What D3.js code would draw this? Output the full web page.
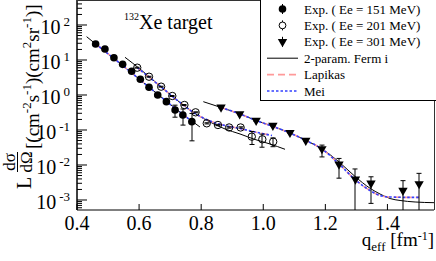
<!DOCTYPE html>
<html>
<head>
<meta charset="utf-8">
<script src="https://cdn.jsdelivr.net/npm/d3@7"></script>
<style>
body{margin:0;background:#fff}
svg{display:block;font-family:"Liberation Serif","Times New Roman",serif}
</style>
</head>
<body>
<svg width="436" height="261"></svg>
<script>
// measured points, Ee = 151 MeV (filled circles)
var q151 = [0.460,0.490,0.519,0.547,0.576,0.604,0.632,0.660,0.688,0.716,0.741,0.770];
var s151 = [28.7,20.6,11.6,7.5,4.75,2.81,1.66,1.0,0.645,0.372,0.268,0.173];
var e151 = [0.8,0.6,0.35,0.22,0.14,0.08,0.05,0.03,0.03,0.14,0.13,0.124];

// Ee = 201 MeV (open circles)
var q201 = [0.594,0.632,0.671,0.707,0.746,0.782,0.818,0.854,0.890,0.927,0.963,0.997,1.032];
var s201 = [6.03,3.33,1.73,0.936,0.518,0.32,0.155,0.139,0.118,0.118,0.0645,0.0542,0.0463];
var e201 = [0.18,0.1,0.05,0.03,0.016,0.01,0.006,0.006,0.005,0.005,0.026,0.022,0.013];

// Ee = 301 MeV (down triangles), asymmetric bars
var q301 = [0.864,0.924,0.977,1.031,1.086,1.137,1.189,1.244,1.297,1.347,1.450,1.502];
var s301 = [0.445,0.286,0.187,0.134,0.0837,0.050,0.0287,0.0105,0.0039,0.0030,0.00187,0.00287];
var eLo301 = [0.02,0.013,0.009,0.006,0.004,0.003,0.0117,0.0063,0.0036,0.0022,0.0017,0.0027];
var eHi301 = [0.02,0.013,0.009,0.006,0.004,0.003,0.0083,0.0049,0.0038,0.0016,0.0017,0.0029];

// model curves: 2-param. Fermi
var fermiQ151 = [0.431,0.474,0.539,0.603,0.667,0.732,0.796];
var fermi151  = [46.3,22.8,7.94,2.72,0.936,0.323,0.122];
var fermiQ201 = [0.5546,0.6030,0.6674,0.7318,0.7802,0.8285,0.8768,0.9251,0.9735,1.0218,1.0701];
var fermi201  = [11.94,5.53,1.81,0.611,0.296,0.169,0.107,0.0769,0.0536,0.0398,0.0281];
var fermiQ301 = [0.8069,0.8639,0.9251,0.9767,1.0314,1.0862,1.1378,1.1893,1.2441,1.2957,1.3440,1.3763,1.4085,1.4407,1.4890,1.5502];
var fermi301  = [0.644,0.440,0.286,0.187,0.126,0.0820,0.0501,0.0286,0.0122,0.00469,0.00216,0.00148,0.00110,0.000968,0.000877,0.000838];

// Lapikas
var lapQ151 = [0.460,0.539,0.603,0.667,0.732,0.770];
var lap151  = [28.8,7.94,2.72,0.936,0.323,0.178];
var lapQ201 = [0.5943,0.6674,0.7318,0.7802,0.8285,0.8768,0.9251,0.9735,1.0282];
var lap201  = [6.03,1.81,0.611,0.296,0.181,0.134,0.110,0.0877,0.0697];
var lapQ301 = [0.8639,0.9251,0.9767,1.0314,1.0862,1.1378,1.1893,1.2441,1.2957,1.3440,1.3763,1.4085,1.4567,1.5018];
var lap301  = [0.440,0.286,0.187,0.126,0.0820,0.0501,0.0286,0.0107,0.00385,0.00187,0.00134,0.00122,0.00119,0.00119];

// Mei
var meiQ151 = [0.460,0.539,0.603,0.667,0.732,0.770];
var mei151  = [28.8,7.94,2.72,0.936,0.323,0.178];
var meiQ201 = [0.5943,0.6674,0.7318,0.7802,0.8285,0.8768,0.9251,0.9735,1.0282];
var mei201  = [6.03,1.81,0.611,0.296,0.181,0.134,0.110,0.0877,0.0697];
var meiQ301 = [0.8639,0.9251,0.9767,1.0314,1.0862,1.1378,1.1893,1.2441,1.2957,1.3440,1.3763,1.4085,1.4567,1.5018];
var mei301  = [0.440,0.286,0.187,0.126,0.0820,0.0501,0.0286,0.0107,0.00385,0.00187,0.00134,0.00122,0.00119,0.00119];

var xTicks = [0.4,0.6,0.8,1.0,1.2,1.4];
var yExps = [-3,-2,-1,0,1,2];
var legendLabels = ["Exp. ( Ee = 151 MeV)","Exp. ( Ee = 201 MeV)","Exp. ( Ee = 301 MeV)","2-param. Ferm i","Lapikas","Mei"];

var svg = d3.select('svg');
var pLeft = 77, pRight = 434, pTop = 0, pBottom = 210;

var x = d3.scaleLinear().domain([0.4,1.55]).range([pLeft,pRight]);
var y = d3.scaleLog().domain([Math.pow(10,-3.286),Math.pow(10,2.714)]).range([pBottom,pTop]);

svg.append('clipPath').attr('id','plot')
  .append('rect').attr('x',pLeft).attr('y',pTop).attr('width',pRight-pLeft).attr('height',pBottom-pTop);

var plot = svg.append('g').attr('clip-path','url(#plot)');

// curves
var line = d3.line().x(function(d){return x(d[0]);}).y(function(d){return y(d[1]);}).curve(d3.curveMonotoneX);
function pairs(qs,vs){ return qs.map(function(q,i){ return [q,vs[i]]; }); }

[[fermiQ151,fermi151],[fermiQ201,fermi201],[fermiQ301,fermi301]].forEach(function(c){
  plot.append('path').attr('d',line(pairs(c[0],c[1])))
    .attr('fill','none').attr('stroke','#000').attr('stroke-width',1);
});
[[lapQ151,lap151],[lapQ201,lap201],[lapQ301,lap301]].forEach(function(c){
  plot.append('path').attr('d',line(pairs(c[0],c[1])))
    .attr('fill','none').attr('stroke','#ff9a9a').attr('stroke-width',1.6).attr('stroke-dasharray','7,4');
});
[[meiQ151,mei151],[meiQ201,mei201],[meiQ301,mei301]].forEach(function(c){
  plot.append('path').attr('d',line(pairs(c[0],c[1])))
    .attr('fill','none').attr('stroke','#3340ff').attr('stroke-width',1.6).attr('stroke-dasharray','2.5,2');
});

// error bars
function errBars(qs,vs,lo,hi){
  qs.forEach(function(q,i){
    var px = Math.round(x(q));
    var y1 = y(Math.max(vs[i]-lo[i],1e-6)), y2 = y(vs[i]+hi[i]);
    plot.append('line').attr('x1',px).attr('x2',px).attr('y1',y1).attr('y2',y2)
      .attr('stroke','#000').attr('stroke-width',1);
    [y1,y2].forEach(function(yy){
      plot.append('line').attr('x1',px-2.5).attr('x2',px+2.5).attr('y1',yy).attr('y2',yy)
        .attr('stroke','#000').attr('stroke-width',1);
    });
  });
}
errBars(q151,s151,e151,e151);
errBars(q201,s201,e201,e201);
errBars(q301,s301,eLo301,eHi301);

// markers
var tri = d3.symbol().type(d3.symbolTriangle).size(38);
plot.selectAll('.p151').data(q151).enter().append('circle')
  .attr('cx',function(d){return x(d);}).attr('cy',function(d,i){return y(s151[i]);})
  .attr('r',3.8).attr('fill','#000');
plot.selectAll('.p201').data(q201).enter().append('circle')
  .attr('cx',function(d){return x(d);}).attr('cy',function(d,i){return y(s201[i]);})
  .attr('r',3.7).attr('fill','none').attr('stroke','#000').attr('stroke-width',1);
plot.selectAll('.p301').data(q301).enter().append('path')
  .attr('d',tri)
  .attr('transform',function(d,i){return 'translate('+x(d)+','+y(s301[i])+') rotate(180)';})
  .attr('fill','#000');

// axes
var minor = [];
for (var e=-4;e<=2;e++) for (var m=2;m<=9;m++){ var v=m*Math.pow(10,e); if (v>y.domain()[0] && v<y.domain()[1]) minor.push(v); }
var major = yExps.map(function(e){return Math.pow(10,e);});

svg.append('g').attr('transform','translate('+pLeft+',0)')
  .call(d3.axisRight(y).tickValues(minor).tickSize(5).tickSizeOuter(0).tickFormat('').offset(0));
svg.append('g').attr('transform','translate('+pLeft+',0)')
  .call(d3.axisRight(y).tickValues(major).tickSize(10).tickSizeOuter(0).tickFormat('').offset(0));
svg.append('g').attr('transform','translate(0,'+pBottom+')')
  .call(d3.axisTop(x).tickValues(xTicks).tickSize(6).tickSizeOuter(0).tickFormat('').offset(0));
svg.selectAll('.domain, .tick line').attr('stroke','#000');

svg.append('line').attr('x1',pLeft).attr('x2',pRight+0.5).attr('y1',0.5).attr('y2',0.5).attr('stroke','#333');
svg.append('line').attr('x1',pRight+0.5).attr('x2',pRight+0.5).attr('y1',0).attr('y2',pBottom).attr('stroke','#333');

// x tick labels
svg.selectAll('.xl').data(xTicks).enter().append('text')
  .attr('x',function(d){return x(d);}).attr('y',230)
  .attr('text-anchor','middle').attr('font-size',20)
  .text(function(d){return d3.format('.1f')(d);});

// y tick labels
yExps.forEach(function(e){
  var t = svg.append('text').attr('x',70).attr('y',y(Math.pow(10,e))+9)
    .attr('text-anchor','end').attr('font-size',20);
  t.append('tspan').text('10');
  t.append('tspan').attr('font-size',13).attr('dx',3).attr('dy',-8).text(e<0 ? '-'+(-e) : e);
});

// axis titles
var xt = svg.append('text').attr('x',434).attr('y',246).attr('text-anchor','end').attr('font-size',19);
xt.append('tspan').text('q');
xt.append('tspan').attr('font-size',13).attr('dy',5).text('eff');
xt.append('tspan').attr('dy',-5).text(' [fm');
xt.append('tspan').attr('font-size',12).attr('dy',-6).text('-1');
xt.append('tspan').attr('dy',6).text(']');

var yt = svg.append('g').attr('transform','translate(31,189) rotate(-90)');
yt.append('text').attr('x',0).attr('y',0).attr('font-size',20).text('L');
yt.append('text').attr('x',27).attr('y',-16).attr('text-anchor','middle').attr('font-size',17).text('d\u03c3');
yt.append('text').attr('x',27).attr('y',1).attr('text-anchor','middle').attr('font-size',17).text('d\u03a9');
yt.append('line').attr('x1',17).attr('x2',37).attr('y1',-13.5).attr('y2',-13.5).attr('stroke','#000');
var yb = yt.append('text').attr('x',40).attr('y',0).attr('font-size',19);
[['[(cm',0],['-2',1],['s',0],['-1',1],[')(cm',0],['2',1],['sr',0],['-1',1],[')]',0]].forEach(function(p){
  if (p[1]) yb.append('tspan').attr('font-size',13).attr('dy',-8).text(p[0]);
  else yb.append('tspan').attr('dy', yb.selectAll('tspan').size() ? 8 : 0).text(p[0]);
});

// target label
var tl = svg.append('text').attr('x',124).attr('y',29);
tl.append('tspan').attr('font-size',10).attr('dy',-9).text('132');
tl.append('tspan').attr('font-size',20).attr('dy',9).text('Xe target');

// legend
svg.append('rect').attr('x',260.5).attr('y',-1).attr('width',180).attr('height',101.5)
  .attr('fill','#fff').attr('stroke','#000').attr('stroke-width',1);
legendLabels.forEach(function(l,i){
  var cy = 9 + i*16.4;
  svg.append('text').attr('x',304).attr('y',cy+4.5).attr('font-size',13).text(l);
  if (i<3){
    svg.append('line').attr('x1',282.5).attr('x2',282.5).attr('y1',cy-5).attr('y2',cy+5).attr('stroke','#000');
  }
});
svg.append('circle').attr('cx',282.5).attr('cy',9).attr('r',3.8).attr('fill','#000');
svg.append('circle').attr('cx',282.5).attr('cy',25.4).attr('r',3.4).attr('fill','#fff').attr('stroke','#000');
svg.append('path').attr('d',tri).attr('transform','translate(282.5,41.8) rotate(180)').attr('fill','#000');
svg.append('line').attr('x1',267).attr('x2',298).attr('y1',58.2).attr('y2',58.2).attr('stroke','#000');
svg.append('line').attr('x1',267).attr('x2',298).attr('y1',74.6).attr('y2',74.6).attr('stroke','#ff9a9a').attr('stroke-width',1.6).attr('stroke-dasharray','7,4');
svg.append('line').attr('x1',267).attr('x2',298).attr('y1',91).attr('y2',91).attr('stroke','#3340ff').attr('stroke-width',1.6).attr('stroke-dasharray','2.5,2');
</script>
</body>
</html>
